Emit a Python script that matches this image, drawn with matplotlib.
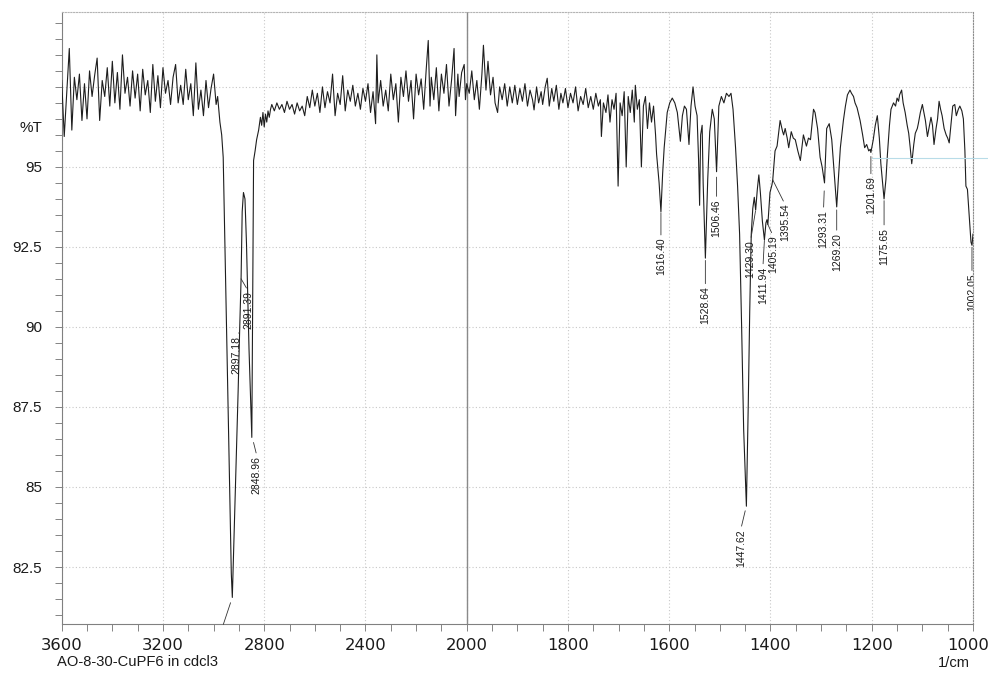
import numpy as np
import matplotlib
matplotlib.use('Agg')
import matplotlib.pyplot as plt
from matplotlib.lines import Line2D
from matplotlib.ticker import FixedLocator, MultipleLocator
from matplotlib.transforms import ScaledTranslation

# noisy baseline, 3600 -> 2984 1/cm
wn_a = [3600, 3590, 3580, 3570, 3560, 3550, 3540, 3530, 3520, 3510,
        3500, 3490, 3480, 3470, 3460, 3450, 3440, 3430, 3420, 3410,
        3400, 3390, 3380, 3370, 3360, 3350, 3340, 3330, 3320, 3310,
        3300, 3290, 3280, 3270, 3260, 3250, 3240, 3230, 3220, 3210,
        3200, 3190, 3180, 3170, 3160, 3150, 3140, 3130, 3120, 3110,
        3100, 3090, 3080, 3070, 3060, 3050, 3040, 3030, 3020, 3010,
        3000, 2990, 2984]
t_a = [97.70, 95.95, 97.30, 98.70, 96.15, 97.80, 97.10, 97.90, 96.45, 97.60,
       96.50, 98.00, 97.20, 97.85, 98.40, 96.45, 97.70, 97.20, 98.10, 96.90,
       98.30, 97.00, 97.95, 96.80, 98.50, 97.30, 97.80, 96.90, 98.00, 97.15,
       97.90, 96.75, 98.05, 97.25, 97.70, 96.70, 98.20, 97.05, 97.85, 96.85,
       98.10, 97.30, 97.70, 96.95, 97.80, 98.20, 97.00, 97.55, 96.95, 98.05,
       97.10, 97.60, 96.60, 98.25, 96.80, 97.40, 96.60, 97.70, 96.85, 97.45,
       97.90, 96.95, 97.20]

# C-H stretch region
wn_b = [2975, 2968, 2962, 2950, 2940, 2930, 2926, 2918, 2910, 2903,
        2897, 2891.4, 2887, 2882, 2876, 2870, 2860, 2853, 2849, 2846,
        2842, 2836, 2830, 2822, 2815, 2810, 2805, 2800, 2795, 2790,
        2785, 2780, 2775, 2770]
t_b = [96.4, 96.0, 95.3, 90.5, 86.4, 82.3, 81.55, 83.8, 86.0, 88.0,
       89.9, 91.5, 93.6, 94.2, 94.0, 92.6, 89.3, 87.5, 86.55, 90.5,
       95.2, 95.5, 95.85, 96.15, 96.55, 96.3, 96.7, 96.25, 96.65, 96.4,
       96.75, 96.55, 96.8, 96.95]

# baseline 2760 -> 2000
wn_c = [2760, 2750, 2740, 2730, 2720, 2710, 2700, 2690, 2680, 2670,
        2660, 2650, 2640, 2630, 2620, 2610, 2600, 2590, 2580, 2570,
        2560, 2550, 2540, 2530, 2520, 2510, 2500, 2490, 2480, 2470,
        2460, 2450, 2440, 2430, 2420, 2410, 2400, 2390, 2380, 2370,
        2360, 2355, 2350, 2340, 2330, 2320, 2310, 2300, 2290, 2280,
        2270, 2260, 2250, 2240, 2230, 2220, 2210, 2200, 2190, 2180,
        2170, 2160, 2152, 2145, 2140, 2130, 2120, 2110, 2100, 2090,
        2080, 2070, 2060, 2050, 2044, 2035, 2030, 2020, 2010, 2005,
        2000]
t_c = [96.75, 97.0, 96.8, 96.95, 96.7, 97.05, 96.8, 96.95, 96.65, 97.0,
       96.75, 96.9, 96.6, 97.2, 96.85, 97.4, 96.9, 97.3, 96.7, 97.5,
       96.85, 97.35, 97.0, 97.9, 96.6, 97.3, 96.95, 97.85, 96.75, 97.4,
       97.05, 97.55, 96.9, 97.3, 96.8, 97.45, 97.05, 97.6, 96.7, 97.35,
       96.35, 98.5, 97.0, 97.7, 96.9, 97.4, 96.75, 97.9, 97.1, 97.6,
       96.4, 97.8, 97.2, 98.0, 97.05, 97.7, 96.5, 97.9, 97.25, 97.75,
       96.8, 98.05, 98.95, 96.9, 97.8, 97.1, 98.1, 96.75, 97.9, 97.3,
       98.2, 96.9, 97.7, 98.7, 96.6, 97.9, 97.2, 97.95, 98.2, 97.1,
       97.6]

# baseline 1995 -> 1631
wn_d = [1995, 1990, 1985, 1980, 1975, 1970, 1967, 1962, 1958, 1953,
        1948, 1944, 1939, 1935, 1930, 1925, 1920, 1915, 1910, 1905,
        1900, 1895, 1890, 1885, 1880, 1875, 1870, 1867, 1862, 1858,
        1853, 1850, 1845, 1841, 1837, 1832, 1828, 1823, 1818, 1814,
        1810, 1805, 1800, 1795, 1790, 1785, 1780, 1775, 1770, 1765,
        1760, 1755, 1750, 1745, 1740, 1736, 1734, 1730, 1725, 1721,
        1717, 1713, 1709, 1705, 1701, 1697, 1693, 1689, 1685, 1681,
        1677, 1673, 1669, 1667, 1663, 1659, 1655, 1651, 1647, 1643,
        1639, 1635, 1631]
t_d = [97.3, 98.0, 97.1, 97.7, 96.8, 97.9, 98.8, 97.4, 98.3, 97.25,
       97.8, 97.0, 96.7, 97.5, 97.1, 97.6, 96.9, 97.5, 97.0, 97.55,
       96.95, 97.45, 97.05, 97.6, 96.9, 97.4, 97.1, 96.78, 97.5, 97.0,
       97.35, 96.95, 97.5, 97.77, 96.9, 97.45, 97.05, 97.55, 96.8, 97.3,
       97.0, 97.45, 96.85, 97.3, 97.0, 97.5, 96.75, 97.2, 96.95, 97.45,
       96.85, 97.2, 96.8, 97.3, 96.9, 97.1, 95.95, 97.0, 96.7, 97.25,
       96.4, 97.1, 96.8, 97.3, 94.4, 97.0, 96.6, 97.35, 95.0, 97.2,
       96.7, 97.4, 96.4, 97.55, 96.8, 97.1, 95.0, 96.9, 97.2, 96.2,
       97.0, 96.4, 96.9]

# fingerprint region 1627 -> 1000
wn_e = [1627, 1625, 1620, 1616.4, 1613, 1610, 1604, 1599, 1594, 1589,
        1584, 1578, 1574, 1570, 1566, 1561, 1557, 1553, 1549, 1545,
        1542, 1540, 1538, 1535, 1533, 1528.6, 1524, 1520, 1515, 1511,
        1506.5, 1502, 1497, 1492, 1487, 1482, 1478, 1474, 1469, 1465,
        1461, 1457, 1453, 1447.6, 1444, 1441, 1438, 1435, 1432, 1429.3,
        1426, 1423, 1420, 1416, 1412, 1409, 1407, 1405.2, 1401, 1397,
        1395.5, 1391, 1387, 1381, 1376, 1374, 1371, 1367, 1364, 1359,
        1355, 1351, 1346, 1341, 1335, 1329, 1325, 1321, 1315, 1312,
        1307, 1302, 1298, 1293.3, 1289, 1284, 1279, 1274, 1269.2, 1266,
        1262, 1256, 1252, 1248, 1243, 1240, 1236, 1233, 1229, 1223,
        1218, 1214, 1210, 1206, 1203, 1201.7, 1197, 1193, 1189, 1185,
        1182, 1178, 1175.7, 1172, 1169, 1165, 1162, 1157, 1153, 1150,
        1147, 1145, 1141, 1138, 1134, 1130, 1127, 1124, 1121, 1117,
        1114, 1110, 1108, 1104, 1100, 1097, 1094, 1090, 1086, 1083,
        1080, 1077, 1073, 1070, 1067, 1064, 1061, 1057, 1053, 1050,
        1047, 1043, 1040, 1036, 1033, 1029, 1026, 1022, 1019, 1016,
        1014, 1011, 1007, 1004, 1002, 1000]
t_e = [96.0, 95.4, 94.5, 93.6, 94.8, 95.6, 96.7, 97.0, 97.15, 97.0,
       96.7, 95.8, 96.6, 96.9, 96.8, 95.7, 96.9, 97.5, 96.9, 96.6,
       95.2, 93.8, 96.0, 96.3, 94.5, 92.15, 94.6, 96.1, 96.8, 96.5,
       94.85, 96.9, 97.2, 97.0, 97.3, 97.2, 97.3, 96.8, 95.6, 94.4,
       92.9, 90.0, 86.8, 84.4, 87.5, 90.5, 92.9, 93.7, 94.05, 93.65,
       94.3, 94.75, 94.2, 93.3, 92.72, 93.25, 93.35, 93.2, 94.2, 94.45,
       94.6, 95.5, 95.65, 96.45, 96.1, 96.0, 96.2, 95.9, 95.6, 96.1,
       95.9, 95.85, 95.5, 95.2, 96.0, 95.65, 95.9, 95.85, 96.8, 96.7,
       96.2, 95.3, 95.0, 94.5, 96.2, 96.35, 95.85, 94.8, 93.75, 94.6,
       95.6, 96.45, 96.9, 97.25, 97.4, 97.3, 97.2, 97.0, 96.85, 96.45,
       96.0, 95.6, 95.7, 95.5, 95.55, 95.45, 95.85, 96.3, 96.6, 95.9,
       95.1, 94.4, 94.0, 94.6, 95.4, 96.3, 96.8, 97.0, 96.9, 97.15,
       97.05, 97.25, 97.4, 97.0, 96.7, 96.3, 96.05, 95.6, 95.1, 95.7,
       96.05, 96.2, 96.35, 96.7, 96.95, 96.7, 96.45, 95.95, 96.3, 96.55,
       96.3, 95.7, 96.2, 96.5, 97.05, 96.8, 96.6, 96.2, 96.0, 95.9,
       95.75, 96.4, 96.9, 96.95, 96.6, 96.8, 96.9, 96.75, 96.5, 95.5,
       94.4, 94.3, 93.35, 92.65, 92.55, 92.9]

peak_labels = ['2897.18', '2891.39', '2848.96', '1616.40', '1528.64',
               '1506.46', '1447.62', '1429.30', '1411.94', '1405.19',
               '1395.54', '1293.31', '1269.20', '1201.69', '1175.65',
               '1002.05']

x_ticks = [3600, 3200, 2800, 2400, 2000, 1800, 1600, 1400, 1200, 1000]
y_ticks = [82.5, 85, 87.5, 90, 92.5, 95, 97.5]
y_ticklabels = ['82.5', '85', '87.5', '90', '92.5', '95', '']

# label placement: text offset from the peak (pixels) and leader gap (pixels)
label_dx = [-3, 7, 5, 0, 0, 0, -5.5, -5, -1.5, 5, 12, -1, 0, 0, 0, 0]
label_dy = [-4, -12, -20, -26, -29, -28, -23, -30, -27, -11, -24, -27, -26, -24, -29, -28]
label_gap = [0, 0, 7, 1, 3, 6, 5, 1, 1, 0, 0, 8, 3, 4, 2, 2]

wn = np.concatenate([wn_a, wn_b, wn_c, wn_d, wn_e]).astype(float)
t = np.concatenate([t_a, t_b, t_c, t_d, t_e]).astype(float)
assert len(wn) == len(t)


# the instrument halves the scale above 2000 1/cm
def fwd(w):
    w = np.asarray(w, dtype=float)
    return np.where(w > 2000, 2000 + (w - 2000) / 2, w)


def inv(v):
    v = np.asarray(v, dtype=float)
    return np.where(v > 2000, 2000 + (v - 2000) * 2, v)


plt.rcParams['font.family'] = ['Liberation Sans', 'DejaVu Sans']

fig = plt.figure(figsize=(9.88, 6.73), dpi=100)
ax = fig.add_axes([61.7 / 988, 49 / 673, (973 - 61.7) / 988, (624 - 12.3) / 673])
ax.set_xscale('function', functions=(fwd, inv))

ax.plot(wn, t, color='#1e1e1e', lw=0.8, zorder=3)
ax.set_xlim(3600, 1000)
ax.set_ylim(80.72, 99.83)

ax.set_xticks(x_ticks, labels=[str(v) for v in x_ticks])
minor_x = [v for v in range(3500, 2000, -100)] + [v for v in range(1950, 1000, -50)]
ax.xaxis.set_minor_locator(FixedLocator(minor_x))
ax.set_yticks(y_ticks, labels=y_ticklabels)
ax.yaxis.set_minor_locator(MultipleLocator(0.5))

ax.tick_params(axis='both', which='both', direction='out', length=5,
               width=0.6, color='#707070', labelcolor='#1a1a1a')
ax.tick_params(axis='x', pad=5, labelsize=11.8)
ax.tick_params(axis='y', pad=9, labelsize=11)
xlabels = ax.get_xticklabels()
for lab in xlabels:
    lab.set_fontfamily('DejaVu Sans')
# keep the last label inside the page
xlabels[-1].set_transform(xlabels[-1].get_transform()
                          + ScaledTranslation(-0.05, 0, fig.dpi_scale_trans))

ax.grid(True, which='major', color='#c8c8c8', linestyle=(0, (1, 2)), lw=0.8)
ax.axvline(2000, color='#8a8a8a', lw=1.0, zorder=2)

ax.spines['top'].set_color('#b4b4b4')
ax.spines['top'].set_linestyle((0, (1, 1.5)))
ax.spines['right'].set_color('#8c8c8c')
ax.spines['right'].set_linestyle((0, (1, 1.5)))
ax.spines['left'].set_color('#808080')
ax.spines['bottom'].set_color('#808080')
for s in ax.spines.values():
    s.set_linewidth(0.8)

wn_asc = wn[::-1]
t_asc = t[::-1]
for lab, dx, dy, gap in zip(peak_labels, label_dx, label_dy, label_gap):
    w = float(lab)
    tp = np.interp(w, wn_asc, t_asc)
    ax.annotate(lab, xy=(w, tp), xytext=(dx, dy), textcoords='offset pixels',
                rotation=90, ha='center', va='top', fontsize=7.5, color='#1a1a1a',
                clip_on=True,
                arrowprops=dict(arrowstyle='-', color='#333333', lw=0.6,
                                shrinkA=0, shrinkB=gap * 0.72, relpos=(0.5, 1.0)))

# leader of the strongest band, its label falls below the frame
ax.annotate('', xy=(2926, np.interp(2926, wn_asc, t_asc)), xytext=(-9, -27),
            textcoords='offset pixels',
            arrowprops=dict(arrowstyle='-', color='#333333', lw=0.6, shrinkA=0, shrinkB=4))

ax.annotate('%T', xy=(0, 96.23), xycoords=('axes fraction', 'data'),
            xytext=(-19.5, 0), textcoords='offset pixels',
            ha='right', va='center', fontsize=11, color='#1a1a1a')

fig.text(57 / 988, 1 - 661.7 / 673, 'AO-8-30-CuPF6 in cdcl3', ha='left', va='center',
         fontsize=10.6, color='#1a1a1a')
fig.text(970 / 988, 1 - 662.7 / 673, '1/cm', ha='right', va='center',
         fontsize=10.6, color='#1a1a1a')

# faint scanner streak on the right
fig.add_artist(Line2D([871.7 / 988, 1.0], [1 - 157.7 / 673] * 2,
                      transform=fig.transFigure, color='#b8dce8', lw=0.8))

fig.savefig('out.png', dpi=100)
